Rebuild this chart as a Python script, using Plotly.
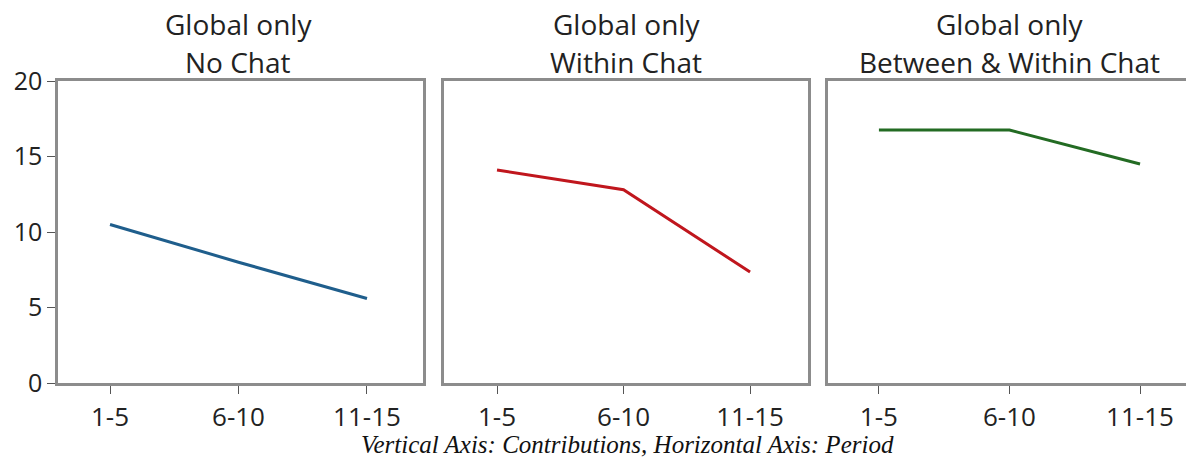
import plotly.graph_objects as go

periods = ["1-5", "6-10", "11-15"]
title_line1 = ["Global only", "Global only", "Global only"]
title_line2 = ["No Chat", "Within Chat", "Between & Within Chat"]
no_chat = [10.5, 8.0, 5.6]
within_chat = [14.1, 12.8, 7.35]
between_within_chat = [16.75, 16.75, 14.5]
series = [no_chat, within_chat, between_within_chat]
colors = ["#1f5e8c", "#c0161d", "#236b23"]
y_ticks = [0, 5, 10, 15, 20]
caption = "Vertical Axis: Contributions, Horizontal Axis: Period"

W, H = 1186, 460
x_doms = [[58 / W, 423 / W], [444 / W, 808 / W], [828 / W, 1.0]]
y_dom = [(H - 383) / H, (H - 81) / H]
x_ranges = [[-0.405, 2.436], [-0.419, 2.458], [-0.39, 2.352]]
title_cx = [238, 626, 1009]

fig = go.Figure()
line_col = "#8c8c8c"
sans = "Open Sans, Noto Sans, sans-serif"
xtick_font = dict(family=sans, size=26, color="#222")
ytick_font = dict(family=sans, size=25, color="#222")

for i in range(3):
    n = "" if i == 0 else str(i + 1)
    fig.add_trace(go.Scatter(x=[0, 1, 2], y=series[i], mode="lines",
                             line=dict(color=colors[i], width=3),
                             xaxis="x" + n, yaxis="y" + n, showlegend=False))
    fig.layout["xaxis" + n] = dict(
        domain=x_doms[i], range=x_ranges[i], anchor="y" + n,
        tickvals=[0, 1, 2], ticktext=periods, ticks="outside", ticklen=8,
        tickcolor="#555", tickwidth=1, showline=True, linecolor=line_col,
        linewidth=2.5, mirror=True, showgrid=False, zeroline=False,
        tickfont=xtick_font, fixedrange=True, automargin=False,
        ticklabelstandoff=1)
    fig.layout["yaxis" + n] = dict(
        domain=y_dom, range=[0, 20], anchor="x" + n,
        tickvals=y_ticks, showticklabels=(i == 0),
        ticks="outside" if i == 0 else "", ticklen=8, tickcolor="#555",
        showline=True, linecolor=line_col, linewidth=2.5,
        mirror=(i < 2), showgrid=False, zeroline=False,
        tickfont=ytick_font, fixedrange=True, automargin=False)
    for txt, yc in ((title_line1[i], 24), (title_line2[i], 62)):
        fig.add_annotation(text=txt, x=title_cx[i] / W, y=(H - yc) / H,
                           xref="paper", yref="paper", showarrow=False,
                           xanchor="center", yanchor="middle",
                           font=dict(family=sans, size=28, color="#222"))

fig.add_annotation(text="<i>" + caption + "</i>", x=627 / W, y=(H - 444) / H,
                   xref="paper", yref="paper", showarrow=False,
                   xanchor="center", yanchor="middle",
                   font=dict(family="Liberation Serif, Times New Roman, serif", size=25, color="#111"))

fig.update_layout(width=W, height=H, margin=dict(l=0, r=0, t=0, b=0, pad=0),
                  plot_bgcolor="white", paper_bgcolor="white")
fig.write_html("out.html", config={"displayModeBar": False},
               post_script="document.body.style.margin='0';document.body.style.overflow='hidden';")
